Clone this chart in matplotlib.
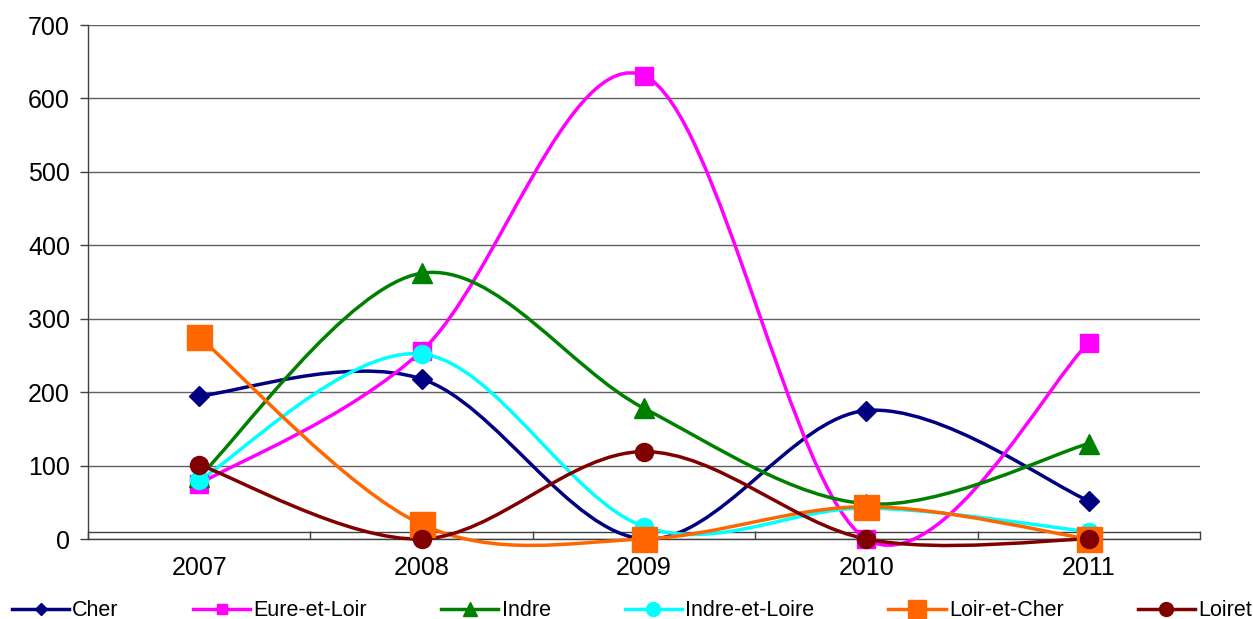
import numpy as np
import matplotlib.pyplot as plt
from matplotlib.path import Path
from matplotlib.patches import PathPatch
from matplotlib.lines import Line2D

plt.rcParams['font.family'] = ['Liberation Sans', 'DejaVu Sans']

# ------------------------------------------------------------------
# ----------------------------- Data -------------------------------
# ------------------------------------------------------------------
years = ['2007', '2008', '2009', '2010', '2011']
cher = [195, 218, 0, 175, 52]
eure_et_loir = [75, 256, 631, 0, 267]
indre = [85, 362, 178, 48, 130]
indre_et_loire = [80, 252, 17, 42, 10]
loir_et_cher = [275, 20, 0, 44, 0]
loiret = [101, 0, 119, 0, 0]

series = [
    ('Cher', cher, '#000080', 'D', 10.5, 6.5),
    ('Eure-et-Loir', eure_et_loir, '#FF00FF', 's', 13, 7),
    ('Indre', indre, '#008000', '^', 15, 10),
    ('Indre-et-Loire', indre_et_loire, '#00FFFF', 'o', 13, 10),
    ('Loir-et-Cher', loir_et_cher, '#FF6600', 's', 18, 13),
    ('Loiret', loiret, '#800000', 'o', 13, 10),
]


def smooth_path(x, y):
    # Excel style smoothed line: cubic bezier through every point
    x = np.asarray(x, float)
    y = np.asarray(y, float)
    px = np.concatenate([[x[0]], x, [x[-1]]])
    py = np.concatenate([[y[0]], y, [y[-1]]])
    verts = [(x[0], y[0])]
    codes = [Path.MOVETO]
    for i in range(1, len(x)):
        c1 = (px[i] + (px[i + 1] - px[i - 1]) / 6, py[i] + (py[i + 1] - py[i - 1]) / 6)
        c2 = (px[i + 1] - (px[i + 2] - px[i]) / 6, py[i + 1] - (py[i + 2] - py[i]) / 6)
        verts += [c1, c2, (x[i], y[i])]
        codes += [Path.CURVE4] * 3
    return Path(verts, codes)


# ------------------------------------------------------------------
# ---------------------------- Figure ------------------------------
# ------------------------------------------------------------------
fig = plt.figure(figsize=(12.53, 6.19), dpi=100)
ax1 = fig.add_axes([0.0702, 0.1292, 0.8875, 0.8304])
ax1.set_xlim(-0.5, 4.5)
ax1.set_ylim(0, 700)

for axis in ['top', 'right']:
    ax1.spines[axis].set_visible(False)
for axis in ['left', 'bottom']:
    ax1.spines[axis].set_color('#404040')
    ax1.spines[axis].set_linewidth(1.0)

ax1.set_yticks(np.arange(0, 701, 100))
ax1.yaxis.grid(True, color='#606060', linewidth=1.0)
ax1.set_axisbelow(True)
ax1.axhline(10, color='#404040', linewidth=1.0, zorder=1)

xpos = np.arange(len(years))
ax1.set_xticks(xpos)
ax1.set_xticklabels(years)
ax1.set_xticks(np.arange(-0.5, 4.6, 1), minor=True)
ax1.tick_params(axis='x', which='major', length=0, pad=12, labelsize=18)
ax1.tick_params(axis='x', which='minor', direction='in', length=5.5, color='#404040', width=1.0)
ax1.tick_params(axis='y', length=6, color='#404040', width=1.0, pad=7, labelsize=18)

# -------- Add data -----------
handles = []
for name, vals, col, mk, ms, lms in series:
    patch = PathPatch(smooth_path(xpos, vals), facecolor='none', edgecolor=col,
                      linewidth=2.5, clip_on=False, zorder=3)
    ax1.add_patch(patch)
    ax1.plot(xpos, vals, linestyle='none', marker=mk, markersize=ms, color=col,
             markeredgecolor=col, markeredgewidth=1, clip_on=False, zorder=4)
    handles.append(Line2D([], [], color=col, linewidth=2.5, marker=mk,
                          markersize=lms, markeredgecolor=col, label=name))

fig.legend(handles=handles, loc='center left', ncol=6, frameon=False,
           bbox_to_anchor=(0.0096, 0.013), fontsize=15.5, handlelength=2.65,
           handletextpad=0.15, columnspacing=3.45, borderpad=0, borderaxespad=0)

plt.savefig('out.png', dpi=100)
